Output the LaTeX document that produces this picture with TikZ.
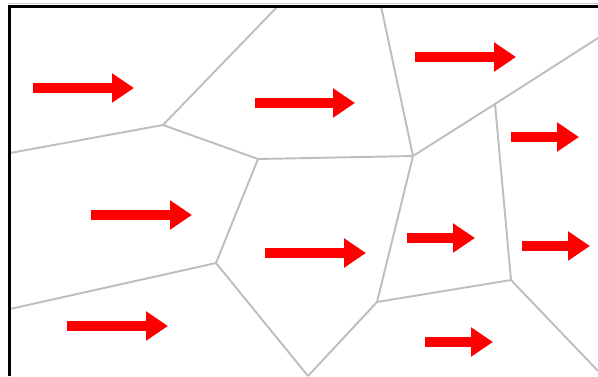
\documentclass[tikz,border=0pt]{standalone}
\usepackage{tikz}
\usetikzlibrary{arrows.meta}

\definecolor{cellgray}{RGB}{190,190,190}

\begin{document}
\begin{tikzpicture}[x=0.02cm,y=-0.02cm,
  wall/.style={cellgray, line width=1.1pt},
  flow/.style={red, line width=0.2cm, -{Triangle[length=0.44cm,width=0.56cm]}}]
  \useasboundingbox (0,0) rectangle (598,376);
  % cell corners
  \coordinate (v1) at (163,125);
  \coordinate (v2) at (258,159);
  \coordinate (v3) at (413,156);
  \coordinate (v4) at (495,104);
  \coordinate (v5) at (511,280);
  \coordinate (v6) at (377,302);
  \coordinate (v7) at (216,263);
  \coordinate (v8) at (308,376);
  % where the walls leave the frame
  \coordinate (t1) at (278,6);
  \coordinate (t2) at (381,6);
  \coordinate (l1) at (10,153);
  \coordinate (l2) at (10,309);
  \coordinate (r1) at (598,38);
  \coordinate (r2) at (598,371);
  \path[wall] (v1) edge (t1)
                   edge (l1)
                   edge (v2)
              (v2) edge (v3)
                   edge (v7)
              (v3) edge (t2)
                   edge (v4)
                   edge (v6)
              (v4) edge (r1)
                   edge (v5)
              (v5) edge (v6)
                   edge (r2)
              (v7) edge (l2)
                   edge (v8)
              (v6) edge (v8);
  % flow arrows
  \foreach \xa/\xb/\yy in {33/134/88, 255/355/103, 415/516/57, 511/579/137,
                           91/192/215, 265/366/253, 67/168/326,
                           407/475/238, 522/590/246, 425/493/342}
    \draw[flow] (\xa,\yy) -- (\xb,\yy);
  % frame
  \draw[gray!40, line width=0.5pt] (8,3.5) -- (598,3.5);
  \draw[black, line width=1.7pt] (9.5,376) -- (9.5,6.5) -- (598,6.5);
\end{tikzpicture}
\end{document}
